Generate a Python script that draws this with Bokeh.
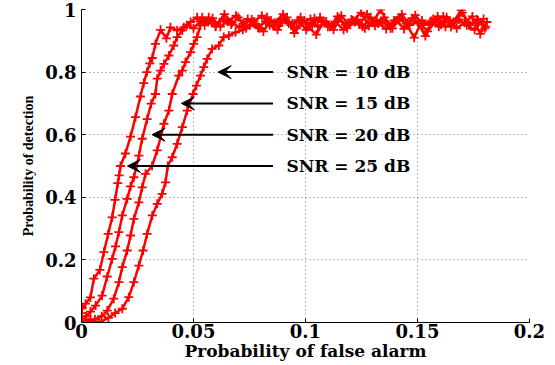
from bokeh.plotting import figure
from bokeh.models import ColumnDataSource, FixedTicker, Arrow, VeeHead, Range1d
from bokeh.core.properties import value
from bokeh.embed import file_html
from bokeh.resources import INLINE

# ---- data: Probability of false alarm (x) vs Probability of detection (y)
snr25_x = [0.0000, 0.0000, 0.0003, 0.0018, 0.0040, 0.0055, 0.0082, 0.0100, 0.0119, 0.0137, 0.0150,
           0.0162, 0.0168, 0.0174, 0.0196, 0.0219, 0.0241, 0.0263, 0.0278, 0.0292, 0.0305, 0.0316,
           0.0330, 0.0353, 0.0379, 0.0397, 0.0427, 0.0457, 0.0487, 0.0516,
           0.0550, 0.0585, 0.0620, 0.0652, 0.0690, 0.0722, 0.0760, 0.0795, 0.0828, 0.0862, 0.0900,
           0.0935, 0.0968, 0.1003, 0.1040, 0.1072, 0.1110, 0.1143, 0.1178, 0.1212, 0.1248, 0.1283,
           0.1318, 0.1352, 0.1388, 0.1420, 0.1457, 0.1490, 0.1525, 0.1560, 0.1595, 0.1630, 0.1665,
           0.1700, 0.1735, 0.1770, 0.1805]
snr25_y = [0.000, 0.030, 0.045, 0.060, 0.080, 0.140, 0.168, 0.225, 0.283, 0.336, 0.392,
           0.445, 0.470, 0.500, 0.540, 0.594, 0.656, 0.722, 0.765, 0.800, 0.828, 0.845,
           0.890, 0.935, 0.908, 0.943, 0.933, 0.943, 0.960, 0.975,
           0.950, 0.972, 0.945, 0.962, 0.980, 0.955, 0.968, 0.940, 0.975, 0.958, 0.985,
           0.950, 0.966, 0.935, 0.972, 0.960, 0.945, 0.978, 0.952, 0.965, 0.990, 0.948,
           0.962, 0.975, 0.940, 0.968, 0.955, 0.982, 0.950, 0.963, 0.945, 0.975, 0.958,
           0.990, 0.950, 0.965, 0.945]

snr20_x = [0.0000, 0.0020, 0.0040, 0.0063, 0.0092, 0.0115, 0.0137, 0.0152, 0.0167, 0.0182,
           0.0204, 0.0219, 0.0234, 0.0246, 0.0256, 0.0271, 0.0293, 0.0311, 0.0330, 0.0338,
           0.0353, 0.0368, 0.0390, 0.0412, 0.0427, 0.0450,
           0.0470, 0.0500, 0.0530, 0.0568, 0.0600, 0.0638, 0.0672, 0.0705, 0.0742, 0.0778,
           0.0812, 0.0845, 0.0882, 0.0918, 0.0950, 0.0985, 0.1022, 0.1055, 0.1092, 0.1125,
           0.1160, 0.1195, 0.1232, 0.1265, 0.1300, 0.1335, 0.1372, 0.1405, 0.1440, 0.1475,
           0.1512, 0.1545, 0.1580, 0.1615, 0.1650, 0.1685, 0.1720, 0.1755, 0.1795]
snr20_y = [0.000, 0.020, 0.035, 0.054, 0.086, 0.147, 0.203, 0.243, 0.289, 0.342,
           0.395, 0.435, 0.464, 0.500, 0.533, 0.587, 0.650, 0.699, 0.730, 0.779,
           0.805, 0.826, 0.853, 0.885, 0.912, 0.933,
           0.950, 0.940, 0.962, 0.975, 0.948, 0.985, 0.958, 0.942, 0.970, 0.955,
           0.930, 0.965, 0.948, 0.975, 0.925, 0.958, 0.970, 0.945, 0.962, 0.935,
           0.980, 0.952, 0.968, 0.940, 0.958, 1.000, 0.950, 0.965, 0.938, 0.972,
           0.955, 0.930, 0.962, 0.978, 0.945, 0.968, 0.950, 0.935, 0.970]

snr15_x = [0.0000, 0.0030, 0.0060, 0.0090, 0.0115, 0.0144, 0.0167, 0.0182, 0.0204, 0.0219,
           0.0234, 0.0256, 0.0271, 0.0286, 0.0315, 0.0338, 0.0368, 0.0390, 0.0405, 0.0434,
           0.0450, 0.0464, 0.0487, 0.0501, 0.0516, 0.0531, 0.0539,
           0.0565, 0.0598, 0.0632, 0.0668, 0.0700, 0.0735, 0.0770, 0.0805, 0.0840, 0.0875,
           0.0908, 0.0942, 0.0978, 0.1012, 0.1048, 0.1082, 0.1118, 0.1150, 0.1185, 0.1220,
           0.1255, 0.1290, 0.1325, 0.1360, 0.1395, 0.1430, 0.1465, 0.1500, 0.1535, 0.1570,
           0.1605, 0.1640, 0.1675, 0.1710, 0.1745, 0.1780, 0.1810]
snr15_y = [0.010, 0.000, 0.010, 0.020, 0.038, 0.076, 0.129, 0.177, 0.230, 0.278,
           0.331, 0.384, 0.432, 0.475, 0.500, 0.550, 0.635, 0.677, 0.730, 0.789,
           0.805, 0.832, 0.864, 0.890, 0.912, 0.949, 0.975,
           0.960, 0.945, 0.970, 0.952, 0.975, 0.940, 0.962, 0.980, 0.950, 0.935,
           0.968, 0.955, 0.975, 0.945, 0.920, 0.962, 0.950, 0.972, 0.940, 0.960,
           0.945, 0.975, 0.955, 0.938, 0.965, 0.985, 0.950, 0.960, 0.915, 0.970,
           0.952, 0.965, 0.940, 0.958, 0.978, 0.922, 0.960]

snr10_x = [0.0000, 0.0040, 0.0080, 0.0120, 0.0150, 0.0182, 0.0211, 0.0234, 0.0256, 0.0275,
           0.0293, 0.0316, 0.0338, 0.0360, 0.0375, 0.0385, 0.0405, 0.0427, 0.0450, 0.0472,
           0.0498, 0.0513, 0.0531, 0.0546, 0.0561, 0.0583, 0.0613, 0.0635, 0.0658, 0.0688,
           0.0720, 0.0752, 0.0788, 0.0822, 0.0855, 0.0890, 0.0925, 0.0960, 0.0995, 0.1030,
           0.1065, 0.1100, 0.1135, 0.1170, 0.1205, 0.1240, 0.1275, 0.1310, 0.1345, 0.1380,
           0.1415, 0.1450, 0.1485, 0.1520, 0.1555, 0.1590, 0.1625, 0.1660, 0.1695, 0.1730,
           0.1765, 0.1800]
snr10_y = [0.000, 0.010, 0.000, 0.015, 0.030, 0.044, 0.081, 0.129, 0.182, 0.230,
           0.283, 0.342, 0.379, 0.411, 0.448, 0.500, 0.528, 0.571, 0.624, 0.677,
           0.730, 0.757, 0.789, 0.816, 0.842, 0.874, 0.885, 0.912, 0.917, 0.927,
           0.935, 0.950, 0.942, 0.962, 0.948, 0.970, 0.955, 0.940, 0.965, 0.950,
           0.975, 0.945, 0.960, 0.935, 0.968, 0.952, 0.985, 0.948, 0.962, 0.940,
           0.972, 0.955, 0.910, 0.965, 0.950, 0.978, 0.945, 0.960, 0.998, 0.950,
           0.968, 0.940]

# annotations
labels = ["SNR = 10 dB", "SNR = 15 dB", "SNR = 20 dB", "SNR = 25 dB"]
label_y = [0.80, 0.70, 0.60, 0.50]
arrow_tip_x = [0.0610, 0.0446, 0.0315, 0.0205]
arrow_tail_x = [0.0855, 0.0855, 0.0855, 0.0855]
label_x = [0.0915, 0.0915, 0.0915, 0.0915]

x_ticks = [0, 0.05, 0.1, 0.15, 0.2]
x_tick_labels = ["0", "0.05", "0.1", "0.15", "0.2"]
y_ticks = [0, 0.2, 0.4, 0.6, 0.8, 1.0]
y_tick_labels = ["0", "0.2", "0.4", "0.6", "0.8", "1"]

p = figure(width=555, height=365, output_backend="svg", toolbar_location=None,
           x_range=Range1d(0, 0.2), y_range=Range1d(0, 1),
           min_border_left=81, min_border_right=26, min_border_top=9, min_border_bottom=43)
p.outline_line_color = None
p.background_fill_color = "white"
p.border_fill_color = "white"

RED = "#ff0000"
for xs, ys in [(snr10_x, snr10_y), (snr15_x, snr15_y), (snr20_x, snr20_y), (snr25_x, snr25_y)]:
    src = ColumnDataSource(dict(x=xs, y=ys))
    p.line("x", "y", source=src, line_color=RED, line_width=2.5)
    p.scatter("x", "y", source=src, marker="cross", size=9, line_color=RED, line_width=1.8)

for tx, tl, yy in zip(arrow_tip_x, arrow_tail_x, label_y):
    p.add_layout(Arrow(end=VeeHead(size=13, fill_color="black", line_color="black", line_width=1),
                       x_start=tl, y_start=yy, x_end=tx, y_end=yy,
                       line_color="black", line_width=2))

lsrc = ColumnDataSource(dict(x=label_x, y=label_y, t=labels))
p.text("x", "y", text="t", source=lsrc, text_font=value("DejaVu Serif"), text_font_style="bold",
       text_font_size="17px", text_baseline="middle", text_align="left", text_color="black")

# axes
p.xaxis.ticker = FixedTicker(ticks=x_ticks)
p.yaxis.ticker = FixedTicker(ticks=y_ticks)
p.xaxis.major_label_overrides = {t: l for t, l in zip(x_ticks, x_tick_labels)}
p.yaxis.major_label_overrides = {t: l for t, l in zip(y_ticks, y_tick_labels)}
for ax in (p.xaxis, p.yaxis):
    ax.major_label_text_font = "DejaVu Serif"
    ax.major_label_text_font_style = "bold"
    ax.major_label_text_font_size = "18px"
    ax.major_label_text_color = "black"
    ax.axis_line_color = "black"
    ax.axis_line_width = 1
    ax.major_tick_in = 4
    ax.major_tick_out = 0
    ax.minor_tick_line_color = None
    ax.major_tick_line_color = "black"
p.xaxis.major_label_standoff = 1
p.yaxis.major_label_standoff = 5

p.xaxis.axis_label = "Probability of false alarm"
p.xaxis.axis_label_text_font = "DejaVu Serif"
p.xaxis.axis_label_text_font_style = "bold"
p.xaxis.axis_label_text_font_size = "17px"
p.xaxis.axis_label_standoff = 0
p.xaxis.axis_label_text_color = "black"

p.yaxis.axis_label = "Probability of detection"
p.yaxis.axis_label_text_font = "Liberation Serif"
p.yaxis.axis_label_text_font_style = "bold"
p.yaxis.axis_label_text_font_size = "14px"
p.yaxis.axis_label_standoff = 6
p.yaxis.axis_label_text_color = "black"

# grid (dotted), including lines at the top and right limits
p.xgrid.ticker = FixedTicker(ticks=x_ticks)
p.ygrid.ticker = FixedTicker(ticks=y_ticks)
for g in (p.xgrid, p.ygrid):
    g.grid_line_color = "#777777"
    g.grid_line_dash = "1 3"
    g.grid_line_width = 1

open("out.html", "w").write(file_html(p, INLINE))
